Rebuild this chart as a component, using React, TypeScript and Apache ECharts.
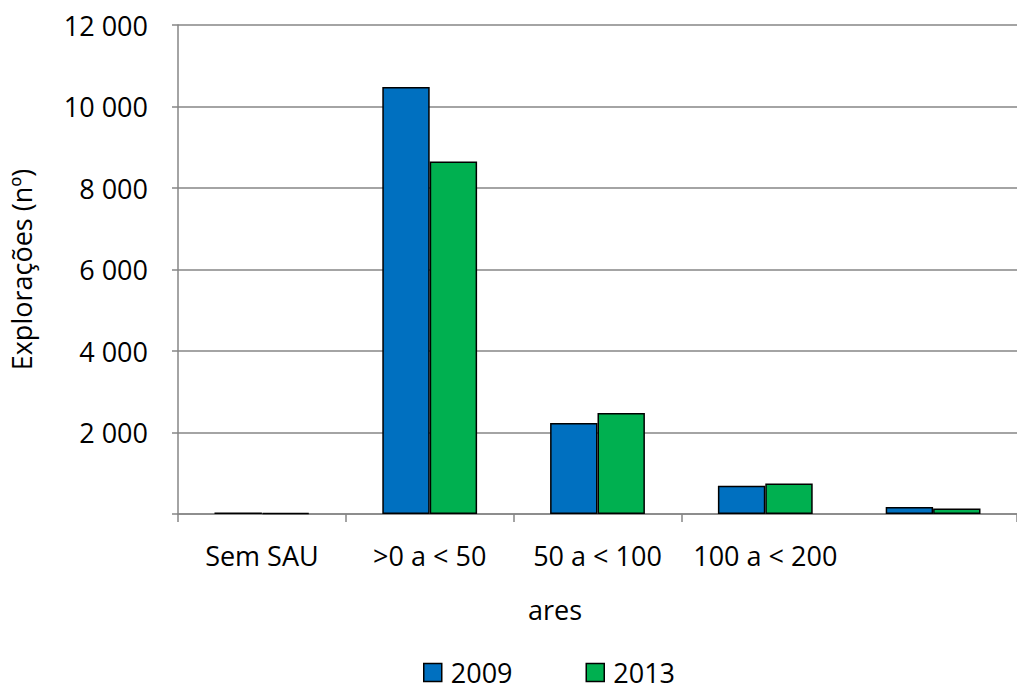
import React, { useEffect, useRef } from "react";
import * as echarts from "echarts";

const categories = ["Sem SAU", ">0 a < 50", "50 a < 100", "100 a < 200", "≥ 200"];
const values2009 = [37, 10477, 2232, 691, 173];
const values2013 = [25, 8649, 2479, 751, 133];
const seriesNames = ["2009", "2013"];
const yAxisTitle = "Explorações (nº)";
const xAxisTitle = "ares";

const FONT = "'Open Sans', sans-serif";
const FS = 27;

export default function App() {
  const ref = useRef<HTMLDivElement>(null);
  useEffect(() => {
    if (!ref.current) return;
    const chart = echarts.init(ref.current, null, { renderer: "svg" });
    const fmt = (v: number) =>
      v === 0 ? "" : String(v).replace(/\B(?=(\d{3})+(?!\d))/g, " ");
    chart.setOption({
      animation: false,
      backgroundColor: "#ffffff",
      textStyle: { fontFamily: FONT },
      grid: { left: 176, top: 25, width: 850, height: 489, containLabel: false },
      legend: {
        data: seriesNames,
        left: 423,
        top: 659,
        padding: 0,
        itemWidth: 18,
        itemHeight: 18,
        itemGap: 73,
        icon: "rect",
        itemStyle: { borderColor: "#000", borderWidth: 1.5 },
        textStyle: {
          fontSize: FS,
          lineHeight: 22,
          color: "#000",
          fontFamily: FONT,
          padding: [0, 0, 0, 4],
        },
      },
      graphic: [
        {
          type: "text",
          left: 528,
          top: 596,
          style: { text: xAxisTitle, fontSize: FS, fill: "#000", fontFamily: FONT },
        },
      ],
      xAxis: {
        type: "category",
        data: categories,
        axisLine: { lineStyle: { color: "#868686", width: 1.5 } },
        axisTick: { show: true, length: 8, lineStyle: { color: "#868686", width: 1.5 } },
        axisLabel: {
          fontSize: FS,
          color: "#000",
          margin: 28,
          fontFamily: FONT,
          interval: (index: number) => index < 4,
        },
      },
      yAxis: {
        type: "value",
        min: 0,
        max: 12000,
        interval: 2000,
        name: yAxisTitle,
        nameLocation: "middle",
        nameGap: 143,
        nameTextStyle: { fontSize: FS, color: "#000", fontFamily: FONT },
        axisLine: { show: true, lineStyle: { color: "#868686", width: 1.5 } },
        axisTick: { show: true, length: 6, inside: false, lineStyle: { color: "#868686", width: 1.5 } },
        splitLine: { show: true, lineStyle: { color: "#868686", width: 1.5 } },
        axisLabel: { fontSize: FS, color: "#000", margin: 30, fontFamily: FONT, formatter: fmt },
      },
      series: [
        {
          name: seriesNames[0],
          type: "bar",
          data: values2009,
          barGap: "0%",
          barCategoryGap: "43.5%",
          itemStyle: { color: "#0070C0", borderColor: "#000", borderWidth: 1.5 },
        },
        {
          name: seriesNames[1],
          type: "bar",
          data: values2013,
          barGap: "0%",
          barCategoryGap: "43.5%",
          itemStyle: { color: "#00B050", borderColor: "#000", borderWidth: 1.5 },
        },
      ],
    });
    return () => chart.dispose();
  }, []);
  return (
    <div
      ref={ref}
      style={{ position: "fixed", left: 0, top: 0, width: 1017, height: 691, overflow: "hidden" }}
    />
  );
}
